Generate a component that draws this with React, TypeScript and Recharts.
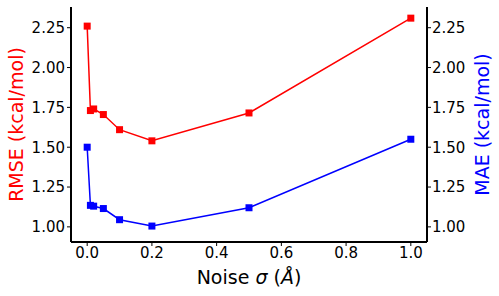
import { Line, LineChart, XAxis, YAxis } from "recharts";

const noise = [0, 0.01, 0.02, 0.05, 0.1, 0.2, 0.5, 1.0];
const rmse = [2.26, 1.73, 1.74, 1.705, 1.61, 1.54, 1.715, 2.31];
const mae = [1.5, 1.135, 1.13, 1.115, 1.045, 1.005, 1.12, 1.55];

const xTicks = [0, 0.2, 0.4, 0.6, 0.8, 1.0];
const yTicks = [1.0, 1.25, 1.5, 1.75, 2.0, 2.25];

const data = noise.map((n, i) => ({ noise: n, rmse: rmse[i], mae: mae[i] }));

const font = "DejaVu Sans";

function square(color: string) {
  return (props: any) => {
    const { cx, cy, index } = props;
    return <rect key={index} x={cx - 3.5} y={cy - 3.5} width={7} height={7} fill={color} />;
  };
}

function yLabel(text: string, color: string, dx: number) {
  return (props: any) => {
    const vb = props.viewBox;
    const x = vb.x + dx;
    const y = vb.y + vb.height / 2;
    return (
      <text
        x={x}
        y={y}
        transform={`rotate(-90, ${x}, ${y})`}
        textAnchor="middle"
        dominantBaseline="central"
        fill={color}
        fontSize={19}
        fontFamily={font}
      >
        {text}
      </text>
    );
  };
}

function xLabel(props: any) {
  const vb = props.viewBox;
  return (
    <text
      x={vb.x + vb.width / 2}
      y={vb.y + 35}
      textAnchor="middle"
      dominantBaseline="central"
      fill="#000"
      fontSize={19}
      fontFamily={font}
    >
      Noise <tspan fontStyle="italic">σ</tspan> (<tspan fontStyle="italic">Å</tspan>)
    </text>
  );
}

const tickStyle = { fill: "#000", fontSize: 15, fontFamily: font };
const axisLine = { stroke: "#000", strokeWidth: 2 };

export default function App() {
  return (
    <div style={{ position: "absolute", left: 0, top: 0, background: "#fff" }}>
      <LineChart
        width={499}
        height={296}
        data={data}
        margin={{ top: 7, right: 0, bottom: 0, left: 0 }}
        style={{ fontFamily: font }}
      >
        <XAxis
          dataKey="noise"
          type="number"
          domain={[-0.05, 1.05]}
          ticks={xTicks}
          tickFormatter={(v: number) => v.toFixed(1)}
          height={54}
          tickSize={4}
          tickMargin={1}
          tick={tickStyle}
          axisLine={axisLine}
          tickLine={{ stroke: "#000" }}
          label={xLabel}
        />
        <XAxis
          xAxisId="top"
          orientation="top"
          dataKey="noise"
          type="number"
          domain={[-0.05, 1.05]}
          height={0}
          tick={false}
          tickLine={false}
          axisLine={axisLine}
        />
        <YAxis
          yAxisId="left"
          type="number"
          domain={[0.905, 2.38]}
          ticks={yTicks}
          tickFormatter={(v: number) => v.toFixed(2)}
          width={71}
          tickSize={4}
          tickMargin={2}
          tick={tickStyle}
          axisLine={axisLine}
          tickLine={{ stroke: "#000" }}
          label={yLabel("RMSE (kcal/mol)", "#ff0000", 16)}
        />
        <YAxis
          yAxisId="right"
          orientation="right"
          type="number"
          domain={[0.905, 2.38]}
          ticks={yTicks}
          tickFormatter={(v: number) => v.toFixed(2)}
          width={72}
          tickSize={4}
          tickMargin={1}
          tick={tickStyle}
          axisLine={axisLine}
          tickLine={{ stroke: "#000" }}
          label={yLabel("MAE (kcal/mol)", "#0000ff", 55)}
        />
        <Line
          yAxisId="left"
          dataKey="rmse"
          type="linear"
          stroke="#ff0000"
          strokeWidth={1.5}
          dot={square("#ff0000")}
          activeDot={false}
          isAnimationActive={false}
        />
        <Line
          yAxisId="right"
          dataKey="mae"
          type="linear"
          stroke="#0000ff"
          strokeWidth={1.5}
          dot={square("#0000ff")}
          activeDot={false}
          isAnimationActive={false}
        />
      </LineChart>
    </div>
  );
}
